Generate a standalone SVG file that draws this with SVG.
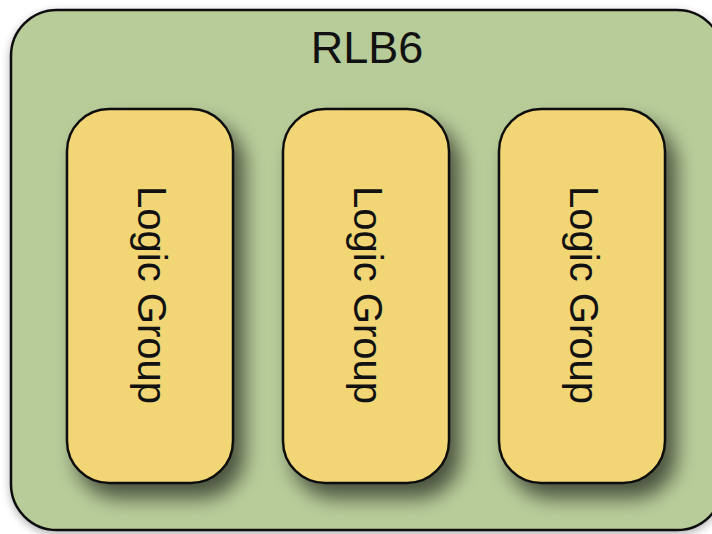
<svg xmlns="http://www.w3.org/2000/svg" width="712" height="534" viewBox="0 0 712 534">
  <defs>
    <filter id="dropShadow" x="-30%" y="-20%" width="170%" height="150%">
      <feGaussianBlur in="SourceAlpha" stdDeviation="10"/>
      <feOffset dx="10" dy="14" result="blur"/>
      <feComponentTransfer><feFuncA type="linear" slope="0.6"/></feComponentTransfer>
      <feMerge><feMergeNode/><feMergeNode in="SourceGraphic"/></feMerge>
    </filter>
    <filter id="outerShadow" x="-10%" y="-10%" width="120%" height="120%">
      <feGaussianBlur in="SourceAlpha" stdDeviation="4"/>
      <feOffset dx="0" dy="3" result="blur"/>
      <feComponentTransfer><feFuncA type="linear" slope="0.3"/></feComponentTransfer>
      <feMerge><feMergeNode/><feMergeNode in="SourceGraphic"/></feMerge>
    </filter>
  </defs>
  <style>
    .block { fill: #b8cc99; stroke: #111; stroke-width: 2.5; }
    .group { fill: #f2d674; stroke: #111; stroke-width: 2.5; }
    .title { font-family: "Liberation Sans", Arial, sans-serif; font-size: 45px; fill: #111; text-anchor: middle; }
    .label { font-family: "Liberation Sans", Arial, sans-serif; font-size: 40px; fill: #111; text-anchor: middle; }
  </style>
  <rect width="712" height="534" fill="#ffffff"/>

  <g id="rlb6">
    <rect class="block" x="11" y="10" width="712" height="520" rx="46" ry="46" filter="url(#outerShadow)"/>
    <text class="title" x="367" y="63">RLB6</text>
  </g>

  <g id="logic-group-1">
    <rect class="group" x="67" y="109" width="166" height="374" rx="42" ry="42" filter="url(#dropShadow)"/>
    <text class="label" transform="translate(150,295) rotate(90)" x="0" y="12">Logic Group</text>
  </g>

  <g id="logic-group-2">
    <rect class="group" x="283" y="109" width="166" height="374" rx="42" ry="42" filter="url(#dropShadow)"/>
    <text class="label" transform="translate(366,295) rotate(90)" x="0" y="12">Logic Group</text>
  </g>

  <g id="logic-group-3">
    <rect class="group" x="499" y="109" width="166" height="374" rx="42" ry="42" filter="url(#dropShadow)"/>
    <text class="label" transform="translate(582,295) rotate(90)" x="0" y="12">Logic Group</text>
  </g>

  <g id="connectors"/>
</svg>
